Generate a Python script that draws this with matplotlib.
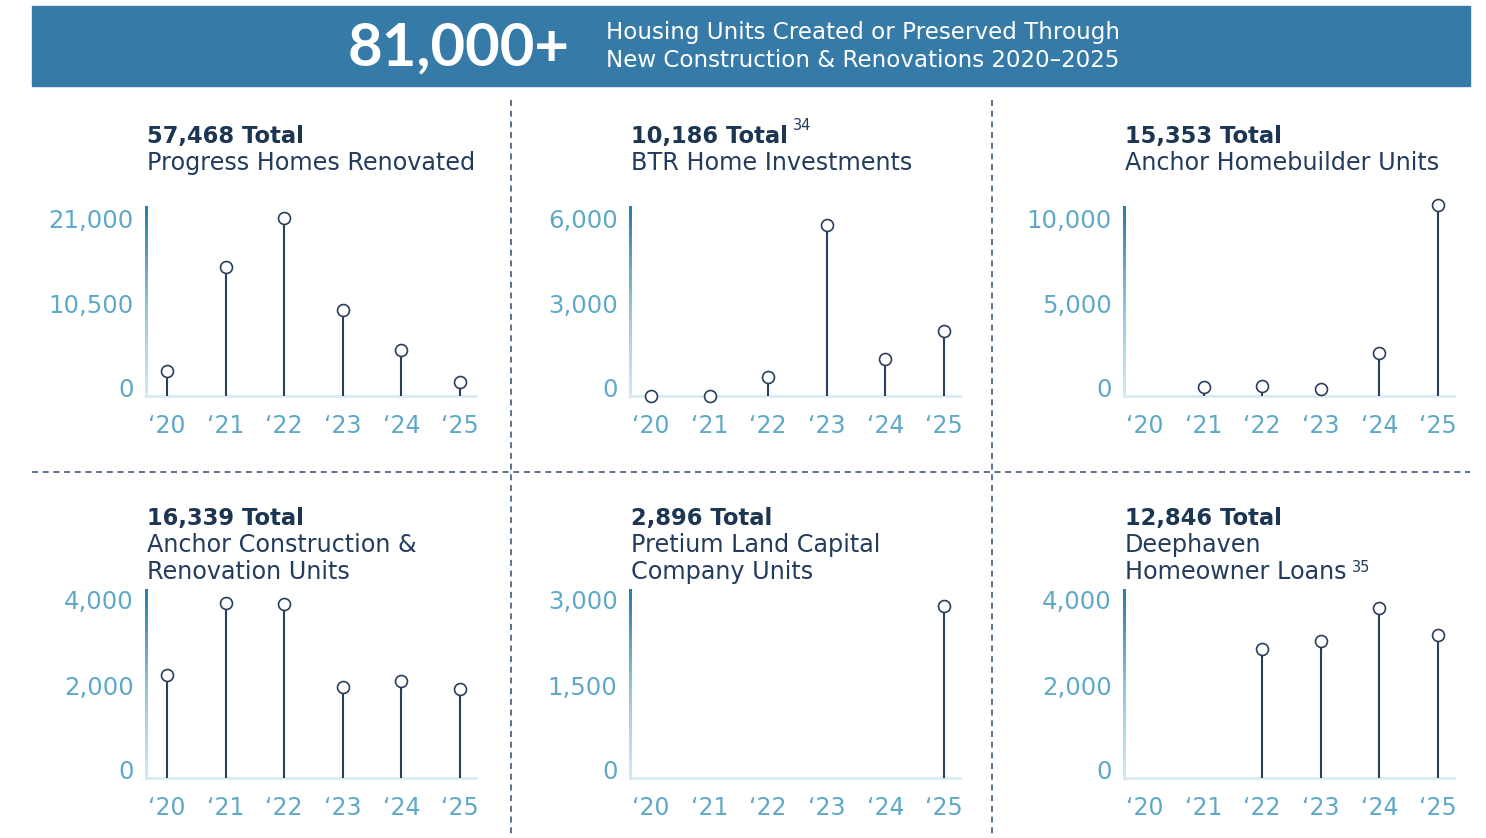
import numpy as np
import matplotlib
matplotlib.use("Agg")
import matplotlib.pyplot as plt
from matplotlib.collections import LineCollection
from matplotlib.colors import LinearSegmentedColormap
from matplotlib.lines import Line2D
from matplotlib.patches import Rectangle

plt.rcParams['lines.scale_dashes'] = False

W, H = 1486, 838
nan = np.nan

# ---------------- data ----------------
years = ["\u201820", "\u201821", "\u201822", "\u201823", "\u201824", "\u201825"]
progress_homes = [2970, 15190, 21000, 10200, 5460, 1660]
btr_homes = [0, 0, 640, 5760, 1250, 2190]
anchor_homebuilder = [nan, 510, 560, 390, 2420, 10730]
anchor_construction = [2320, 3930, 3910, 2050, 2180, 2000]
pretium_land = [nan, nan, nan, nan, nan, 2896]
deephaven_loans = [nan, nan, 2900, 3080, 3820, 3210]

series = [progress_homes, btr_homes, anchor_homebuilder,
          anchor_construction, pretium_land, deephaven_loans]
totals = ["57,468 Total", "10,186 Total", "15,353 Total",
          "16,339 Total", "2,896 Total", "12,846 Total"]
subtitles = [["Progress Homes Renovated"], ["BTR Home Investments"],
             ["Anchor Homebuilder Units"],
             ["Anchor Construction &", "Renovation Units"],
             ["Pretium Land Capital", "Company Units"],
             ["Deephaven", "Homeowner Loans"]]
footnotes = [None, "34", None, None, None, "35"]
y_tick_values = [[0, 10500, 21000], [0, 3000, 6000], [0, 5000, 10000],
                 [0, 2000, 4000], [0, 1500, 3000], [0, 2000, 4000]]
banner_number = "81,000+"
banner_lines = ["Housing Units Created or Preserved Through",
                "New Construction & Renovations 2020\u20132025"]

# ---------------- style ----------------
BANNER = '#367ba7'
NAVY = '#1c3553'
SUB = '#233b5c'
STEM = '#2b3f5c'
TICK = '#60a8c8'
AXLIGHT = '#d3e9f3'
DASH = '#4d6684'
FONT = 'DejaVu Sans'

fig = plt.figure(figsize=(W / 100, H / 100), dpi=100)
fig.patch.set_facecolor('white')

def fx(x):
    return x / W

def fy(y):
    return 1 - y / H

# banner
fig.patches.append(Rectangle((fx(32), fy(86)), fx(1470) - fx(32), fy(6) - fy(86),
                             transform=fig.transFigure, color=BANNER, zorder=0))
fig.text(fx(348), fy(65), banner_number, family='Lato', weight='bold',
         fontsize=43, color='white', va='baseline', ha='left')
fig.text(fx(606), fy(39), banner_lines[0], family=FONT, fontsize=16.6,
         color='white', va='baseline', ha='left')
fig.text(fx(606), fy(67), banner_lines[1], family=FONT, fontsize=16.6,
         color='white', va='baseline', ha='left')

# dashed separators
ls = (0, (4.3, 3.4))
for xv in (511, 992):
    fig.add_artist(Line2D([fx(xv), fx(xv)], [fy(100), fy(838)], transform=fig.transFigure,
                          color=DASH, lw=1.3, linestyle=ls))
fig.add_artist(Line2D([fx(32), fx(1470)], [fy(472.5), fy(472.5)], transform=fig.transFigure,
                      color=DASH, lw=1.3, linestyle=ls))

col_x = [146, 630, 1124]
rows = [dict(bottom=396, top=207, max_y=218, title_base=143, sub_base=170),
        dict(bottom=778, top=590, max_y=600, title_base=525, sub_base=552)]
AX_W = 330
label_fracs = [0.045, 0.522, 1.0]

cmap = LinearSegmentedColormap.from_list('axgrad', [AXLIGHT, '#8fc3de', '#2a7db0'])

fig.canvas.draw()
renderer = fig.canvas.get_renderer()

for i in range(6):
    r = rows[i // 3]
    x0 = col_x[i % 3]
    ax = fig.add_axes([fx(x0), fy(r['bottom']), AX_W / W, (r['bottom'] - r['top']) / H])
    top_val = y_tick_values[i][-1]
    scale = (r['bottom'] - r['max_y'])  # px for top_val
    ax.set_ylim(0, top_val * (r['bottom'] - r['top']) / scale)
    spacing = 58.6
    ax.set_xlim(-(21 / spacing), 5 + 16 / spacing)

    vals = np.array(series[i], dtype=float)
    xs = np.arange(len(years))
    m = ~np.isnan(vals)
    ax.vlines(xs[m], 0, vals[m], color=STEM, lw=1.5, zorder=2)
    ax.plot(xs[m], vals[m], 'o', ms=8.6, mfc='white', mec=STEM, mew=1.2,
            clip_on=False, zorder=4)

    for s in ax.spines.values():
        s.set_visible(False)
    ax.axhline(0, color=AXLIGHT, lw=1.8, zorder=1, clip_on=False)
    # gradient left axis line
    n = 40
    yy = np.linspace(0, 1, n + 1)
    segs = [[(0, yy[k]), (0, yy[k + 1])] for k in range(n)]
    lc = LineCollection(segs, cmap=cmap, transform=ax.transAxes, lw=1.8,
                        clip_on=False, zorder=1, antialiased=False)
    lc.set_capstyle('projecting')
    lc.set_array(yy[:-1])
    ax.add_collection(lc)

    ax.set_yticks([f * top_val for f in label_fracs])
    ax.set_yticklabels([f"{v:,}" for v in y_tick_values[i]])
    ax.set_xticks(xs)
    ax.set_xticklabels(years)
    ax.tick_params(axis='y', length=0, labelsize=17.6, pad=9)
    ax.tick_params(axis='x', length=0, labelsize=17, pad=13)
    for lab in ax.get_xticklabels() + ax.get_yticklabels():
        lab.set_family(FONT)
        lab.set_color(TICK)
    ax.set_facecolor('none')

    # titles
    tx = x0 + 1
    t = fig.text(fx(tx), fy(r['title_base']), totals[i], family=FONT, weight='bold',
                 fontsize=16.3, color=NAVY, va='baseline', ha='left')
    last = t
    last_base = r['title_base']
    for k, line in enumerate(subtitles[i]):
        b = r['sub_base'] + 27 * k
        last = fig.text(fx(tx), fy(b), line, family=FONT, fontsize=17.2, color=SUB,
                        va='baseline', ha='left')
        last_base = b
    if footnotes[i]:
        if i == 1:
            anchor, base = t, r['title_base'] - 13
        else:
            anchor, base = last, last_base - 7
        bb = anchor.get_window_extent(renderer=renderer)
        fig.text(bb.x1 / W + fx(5), fy(base), footnotes[i], family=FONT,
                 fontsize=10.5, color=SUB, va='baseline', ha='left')

fig.savefig('out.png', dpi=100, facecolor='white')
